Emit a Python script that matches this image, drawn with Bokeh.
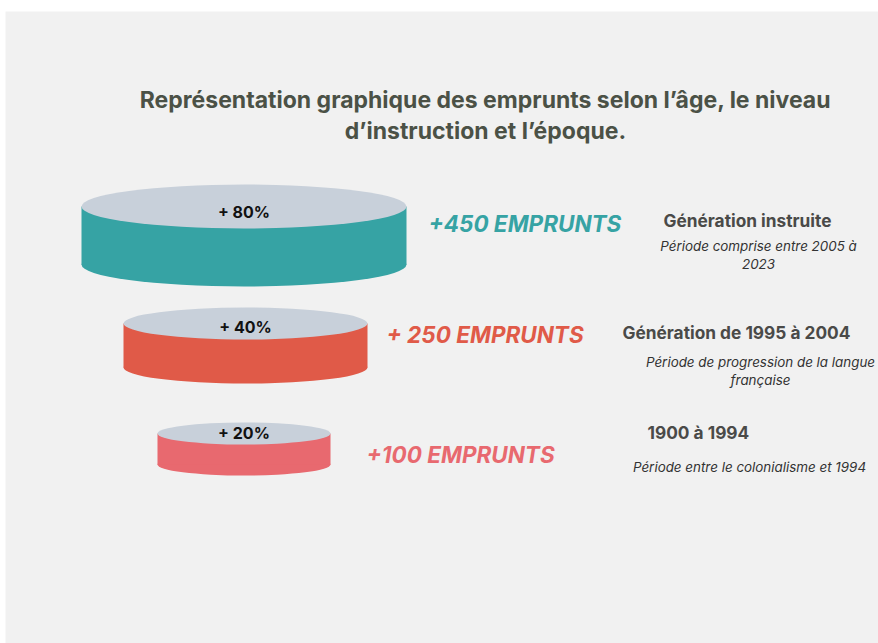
from bokeh.plotting import figure
from bokeh.models import Range1d
from bokeh.core.properties import value
from bokeh.embed import file_html
from bokeh.resources import INLINE

# ---- data ----
title_lines = ["Représentation graphique des emprunts selon l\u2019âge, le niveau",
               "d\u2019instruction et l\u2019époque."]
percent_labels = ["+ 80%", "+ 40%", "+ 20%"]
emprunts_labels = ["+450 EMPRUNTS", "+ 250 EMPRUNTS", "+100 EMPRUNTS"]
generations = ["Génération instruite", "Génération de 1995 à 2004", "1900 à 1994"]
periods = [["Période comprise entre 2005 à", "2023"],
           ["Période de progression de la langue", "française"],
           ["Période entre le colonialisme et 1994"]]

# ---- layout / style (screen coordinates, y downward) ----
W, H = 878, 643
LEFT, TOP = 5, 11
cyl_cx = [243.5, 245, 243.5]
cyl_w = [325, 244, 173]
cyl_top = [206, 323, 433]
cyl_depth = [58, 44, 31]
cyl_eh = [44, 32, 22]
pct_dy = [5, 3, -1]
side_colors = ["#36A3A4", "#E05A48", "#E8696F"]
top_color = "#C8D0DA"
emp_x = [428, 386, 366]
emp_y = [223, 334, 454]
gen_x = [663, 622, 647]
gen_y = [220, 332, 432]
per_cx = [758, 760, 749]
per_y = [245, 361, 466]
line_gap = 18.5

p = figure(width=W, height=H, output_backend="svg", toolbar_location=None,
           x_range=Range1d(LEFT, W), y_range=Range1d(H, TOP),
           background_fill_color="#F1F1F1", border_fill_color="#FFFFFF",
           outline_line_color=None, min_border=0,
           min_border_left=LEFT, min_border_top=TOP)
p.axis.visible = False
p.grid.visible = False

for i in range(3):
    cx = cyl_cx[i]
    ty = cyl_top[i]
    by = ty + cyl_depth[i]
    p.ellipse(x=[cx], y=[by], width=[cyl_w[i]], height=[cyl_eh[i]],
              fill_color=side_colors[i], line_color=None)
    p.quad(left=[cx - cyl_w[i] / 2], right=[cx + cyl_w[i] / 2], top=[ty], bottom=[by],
           fill_color=side_colors[i], line_color=None)
    p.ellipse(x=[cx], y=[ty], width=[cyl_w[i]], height=[cyl_eh[i]],
              fill_color=top_color, line_color=None)
    p.text(x=[cx], y=[ty + pct_dy[i]], text=[percent_labels[i]], text_font=value("Inter"),
           text_font_style="bold", text_font_size="16px", text_color="#111111",
           text_align="center", text_baseline="middle")
    p.text(x=[emp_x[i]], y=[emp_y[i]], text=[emprunts_labels[i]],
           text_font=value("Inter"), text_font_style="bold italic",
           text_font_size="22.5px", text_color=side_colors[i],
           text_align="left", text_baseline="middle")
    p.text(x=[gen_x[i]], y=[gen_y[i]], text=[generations[i]],
           text_font=value("Inter"), text_font_style="bold",
           text_font_size="17.3px", text_color="#4A4A48",
           text_align="left", text_baseline="middle")
    for j, line in enumerate(periods[i]):
        p.text(x=[per_cx[i]], y=[per_y[i] + j * line_gap], text=[line],
               text_font=value("Inter"), text_font_style="italic",
               text_font_size="13.4px", text_color="#333333",
               text_align="center", text_baseline="middle")

for j, line in enumerate(title_lines):
    p.text(x=[485], y=[99 + j * 31], text=[line], text_font=value("Inter"),
           text_font_style="bold", text_font_size="23px", text_color="#4B5146",
           text_align="center", text_baseline="middle")

open("out.html", "w").write(file_html(p, INLINE))
